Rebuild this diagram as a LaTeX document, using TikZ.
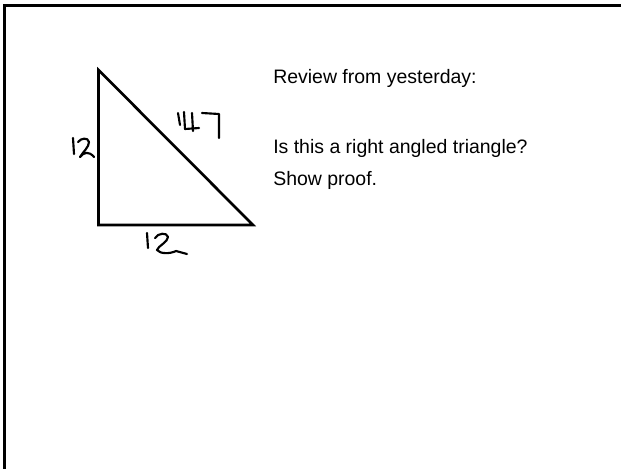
\documentclass[tikz,border=0pt]{standalone}
\usepackage{fontspec}
\setmainfont{Liberation Sans}
\begin{document}
\begin{tikzpicture}[x=0.75pt,y=-0.75pt,
  frame/.style={line width=2.4pt,line cap=rect},
  tri/.style={line width=2pt,line join=miter},
  hand/.style={line width=1.6pt,line cap=round,line join=round},
  txt/.style={anchor=base west,inner sep=0pt,font=\fontsize{14.6}{17}\selectfont}]
\useasboundingbox (0,0) rectangle (621,468);
% frame
\coordinate (tl) at (4.5,5.5);
\coordinate (tr) at (621,5.5);
\coordinate (bl) at (4.5,468);
\draw[frame] (tr) -- (tl) -- (bl);
% triangle
\coordinate (A) at (98.5,70);
\coordinate (B) at (98.5,225);
\coordinate (C) at (253,225);
\draw[tri] (A) -- (B) -- (C) -- cycle;
% left 12
\draw[hand] (73,138) -- (74,154);
\draw[hand] (78,142) .. controls (81,138) and (88,137) .. (89,142) .. controls (89,147) and (83,152) .. (80,157) .. controls (84,152) and (89,151) .. (94,157);
% 147
\draw[hand] (178,113) -- (180,125);
\draw[hand] (184,112) -- (185,129) -- (199,128);
\draw[hand] (192,113) -- (193,131);
\draw[hand] (202,113) -- (219,114) -- (219,138);
% bottom 12
\draw[hand] (147,233) -- (148,248);
\draw[hand] (155,238) .. controls (158,233) and (167,232) .. (168,237) .. controls (168,242) and (158,246) .. (157,250) .. controls (160,254) and (170,254) .. (176,251) -- (187,254);
% text
\node[txt] (t1) at (273,83) {Review from yesterday:};
\node[txt] (t2) at (273,153) {Is this a right angled triangle?};
\node[txt] (t3) at (273,185) {Show proof.};
\end{tikzpicture}
\end{document}
